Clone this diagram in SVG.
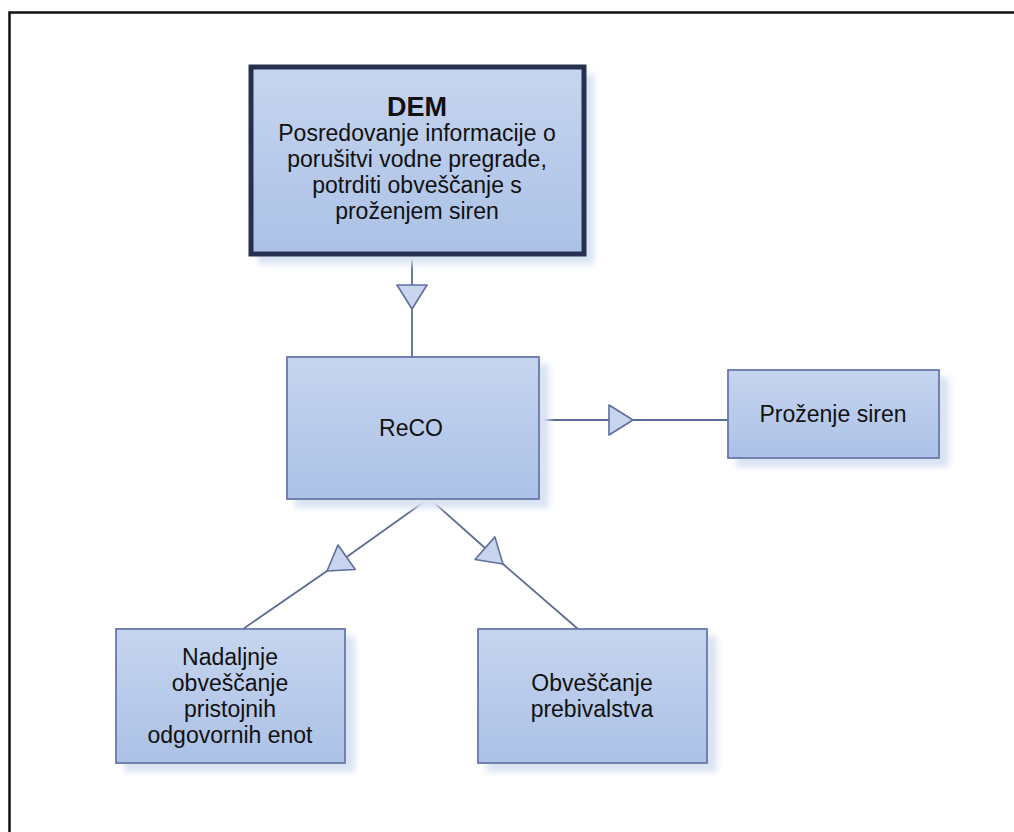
<svg xmlns="http://www.w3.org/2000/svg" width="1014" height="832" viewBox="0 0 1014 832">
  <defs>
    <linearGradient id="boxFill" x1="0" y1="0" x2="0" y2="1">
      <stop offset="0" stop-color="#c6d5ef"/>
      <stop offset="1" stop-color="#abc1e6"/>
    </linearGradient>
    <filter id="blur" x="-20%" y="-20%" width="140%" height="140%">
      <feGaussianBlur stdDeviation="3"/>
    </filter>
    <marker id="tri" markerUnits="userSpaceOnUse" markerWidth="30" markerHeight="36" viewBox="-2 -17 30 34" refX="24" refY="0" orient="auto">
      <path d="M0,-15 L24,0 L0,15 Z" fill="#c9d4ee" stroke="#5f6f9e" stroke-width="1.6" stroke-linejoin="round"/>
    </marker>
  </defs>
  <style>
    .box { fill: url(#boxFill); stroke: #6679aa; stroke-width: 1.8; }
    .dem { fill: url(#boxFill); stroke: #27314f; stroke-width: 5; }
    .shadow { fill: #d9e3f3; filter: url(#blur); }
    .conn { fill: none; stroke: #5c6b96; stroke-width: 1.8; marker-mid: url(#tri); }
    text { font-family: "Liberation Sans", Arial, sans-serif; font-size: 23px; fill: #111; text-anchor: middle; }
    .title { font-weight: bold; font-size: 27px; }
  </style>
  <rect x="0" y="0" width="1014" height="832" fill="#ffffff"/>
  <rect x="9.5" y="12.5" width="1020" height="840" fill="none" stroke="#111" stroke-width="2.5"/>

  <g id="connectors">
    <path class="conn" d="M412,254 L412,309 L412,357"/>
    <path class="conn" d="M539,420 L633,420 L728,420"/>
    <path class="conn" d="M428,499 L327,571 L243,629"/>
    <path class="conn" d="M430,499 L503,564 L578,629"/>
  </g>

  <g id="node-dem">
    <rect class="shadow" x="258" y="74" width="336" height="190"/>
    <rect class="dem" x="251" y="67" width="333" height="187"/>
    <text class="title" x="417" y="116">DEM</text>
    <text x="417" y="141">Posredovanje informacije o</text>
    <text x="417" y="167">porušitvi vodne pregrade,</text>
    <text x="417" y="193">potrditi obveščanje s</text>
    <text x="417" y="219">proženjem siren</text>
  </g>

  <g id="node-reco">
    <rect class="shadow" x="295" y="364" width="254" height="144"/>
    <rect class="box" x="287" y="357" width="252" height="142"/>
    <text x="411" y="436">ReCO</text>
  </g>

  <g id="node-prozenje">
    <rect class="shadow" x="736" y="377" width="213" height="90"/>
    <rect class="box" x="728" y="370" width="211" height="88"/>
    <text x="833" y="422">Proženje siren</text>
  </g>

  <g id="node-nadaljnje">
    <rect class="shadow" x="124" y="636" width="231" height="136"/>
    <rect class="box" x="116" y="629" width="229" height="134"/>
    <text x="230" y="665">Nadaljnje</text>
    <text x="230" y="691">obveščanje</text>
    <text x="230" y="717">pristojnih</text>
    <text x="230" y="743">odgovornih enot</text>
  </g>

  <g id="node-obvescanje">
    <rect class="shadow" x="486" y="636" width="231" height="136"/>
    <rect class="box" x="478" y="629" width="229" height="134"/>
    <text x="592" y="691">Obveščanje</text>
    <text x="592" y="717">prebivalstva</text>
  </g>
</svg>
